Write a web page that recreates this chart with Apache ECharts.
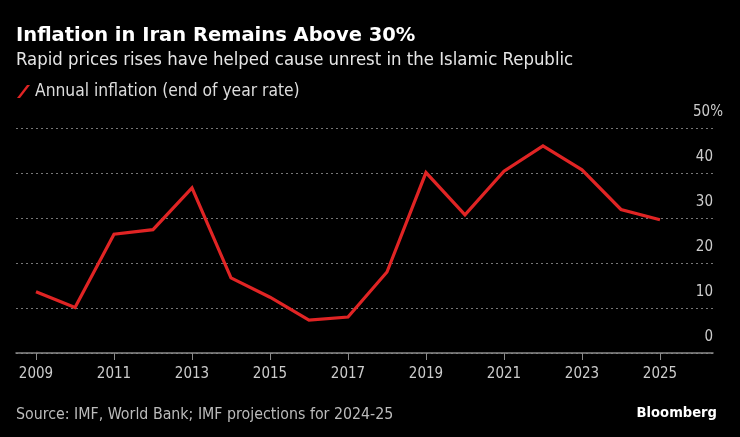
<!DOCTYPE html>
<html><head><meta charset="utf-8">
<script src="https://cdn.jsdelivr.net/npm/echarts@6/dist/echarts.min.js"></script>
<style>html,body{margin:0;padding:0;background:#000;}#c{width:740px;height:437px;}</style>
</head><body><div id="c"></div>
<script>
const years = [2009,2010,2011,2012,2013,2014,2015,2016,2017,2018,2019,2020,2021,2022,2023,2024,2025];
const inflation = [13.6,10.1,26.4,27.4,36.7,16.7,12.4,7.3,8.0,18.0,40.1,30.7,40.4,46.0,40.7,31.9,29.6];
const xTicks = [2009,2011,2013,2015,2017,2019,2021,2023,2025];
const yTicks = [0,10,20,30,40,50];
const FONT = '"Liberation Sans Narrow","DejaVu Sans Condensed","Roboto Condensed",sans-serif';
const TFONT = '"DejaVu Sans",sans-serif';

const chart = echarts.init(document.getElementById('c'));
chart.setOption({
  backgroundColor: '#000',
  animation: false,
  title: [
    {text: 'Inflation in Iran Remains Above 30%', left: 11, top: 21,
     textStyle: {color: '#fff', fontSize: 19.5, fontWeight: 'bold', fontFamily: TFONT}},
    {text: 'Rapid prices rises have helped cause unrest in the Islamic Republic', left: 11, top: 46,
     textStyle: {color: '#e6e6e6', fontSize: 18.4, fontWeight: 'normal', fontFamily: FONT}},
    {text: 'Source: IMF, World Bank; IMF projections for 2024-25', left: 11, top: 402,
     textStyle: {color: '#bbb', fontSize: 15.8, fontWeight: 'normal', fontFamily: FONT}},
    {text: 'Bloomberg', right: 18, top: 401,
     textStyle: {color: '#fff', fontSize: 14.6, fontWeight: 'bold', fontFamily: FONT}}
  ],
  legend: {
    left: 12, top: 78, itemWidth: 13, itemHeight: 13, itemGap: 11,
    icon: 'path://M10,0 L13,0 L3,13 L0,13 Z',
    textStyle: {color: '#ddd', fontSize: 17.3, fontFamily: FONT},
    data: ['Annual inflation (end of year rate)']
  },
  grid: {left: 16, right: 27, top: 128, bottom: 84, containLabel: false},
  xAxis: {
    type: 'value', min: 2008.487, max: 2026.36,
    splitLine: {show: false},
    axisLine: {show: true, lineStyle: {color: '#8a8a8a', width: 1.5}},
    axisTick: {show: true, customValues: xTicks, length: 7, lineStyle: {color: '#8a8a8a', width: 1}},
    axisLabel: {customValues: xTicks, color: '#ccc', fontSize: 15, fontFamily: FONT, margin: 14,
      formatter: v => String(v)}
  },
  yAxis: {
    type: 'value', position: 'right', min: 0, max: 50, interval: 10,
    axisLine: {show: false}, axisTick: {show: false},
    splitLine: {show: true, lineStyle: {color: '#777', type: [2, 3], width: 1}},
    axisLabel: {
      inside: true, margin: -10, color: '#ccc', fontSize: 15, fontFamily: FONT,
      verticalAlign: 'bottom', padding: [0, 0, 8, 0],
      formatter: v => v === 50 ? '{b|50%}' : '{a|' + v + '}',
      rich: {
        a: {color: '#ccc', fontSize: 15, fontFamily: FONT, padding: [0, 10, 0, 0]},
        b: {color: '#ccc', fontSize: 15, fontFamily: FONT}
      }
    }
  },
  series: [{
    name: 'Annual inflation (end of year rate)', type: 'line',
    data: years.map((y, i) => [y, inflation[i]]),
    showSymbol: false, symbol: 'none',
    lineStyle: {color: '#e02424', width: 3.2, join: 'miter'},
    itemStyle: {color: '#e02424'}
  }]
});
</script></body></html>
